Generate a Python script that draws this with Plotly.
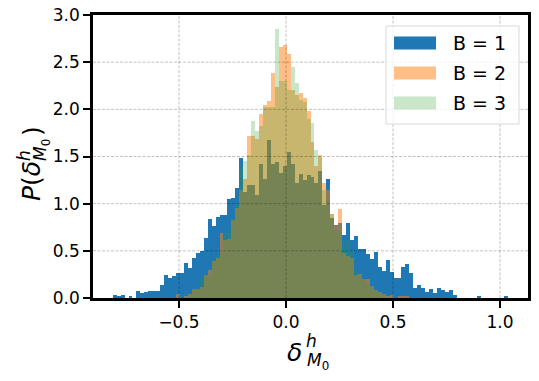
import numpy as np
import plotly.graph_objects as go

# histogram bins shared by the three series
X_MIN, X_MAX, N_BINS = -0.81, 1.039, 100

B1 = [0.03, 0.025, 0.035, 0.0, 0.02, 0.0, 0.07, 0.05, 0.06, 0.07,
      0.07, 0.07, 0.14, 0.24, 0.21, 0.23, 0.26, 0.27, 0.37, 0.32,
      0.42, 0.48, 0.50, 0.64, 0.84, 0.76, 0.86, 0.88, 0.88, 1.05,
      1.06, 1.17, 1.48, 1.12, 1.20, 1.20, 1.09, 1.42, 1.26, 1.67,
      1.42, 1.44, 1.32, 1.40, 1.55, 1.42, 1.22, 1.31, 1.25, 1.30,
      1.28, 1.22, 1.35, 0.99, 1.26, 0.85, 0.77, 0.80, 0.67, 0.79,
      0.62, 0.66, 0.52, 0.52, 0.47, 0.41, 0.49, 0.33, 0.29, 0.40,
      0.28, 0.21, 0.21, 0.33, 0.36, 0.27, 0.11, 0.14, 0.11, 0.06,
      0.10, 0.05, 0.11, 0.08, 0.06, 0.08, 0.03, 0.0, 0.0, 0.0,
      0.0, 0.0, 0.025, 0.0, 0.0, 0.0, 0.0, 0.0, 0.0, 0.02]

B2 = [0.0, 0.0, 0.0, 0.0, 0.0, 0.0, 0.0, 0.0, 0.0, 0.0,
      0.0, 0.0, 0.0, 0.0, 0.0, 0.0, 0.04, 0.0, 0.02, 0.04,
      0.10, 0.10, 0.12, 0.24, 0.30, 0.39, 0.42, 0.69, 0.62, 0.63,
      0.83, 0.95, 1.15, 1.26, 1.72, 1.72, 1.69, 1.95, 2.05, 2.09,
      2.38, 2.24, 2.66, 2.68, 2.59, 2.20, 2.15, 2.17, 2.12, 1.98,
      1.65, 1.40, 1.52, 1.22, 1.14, 0.89, 0.77, 0.94, 0.48, 0.45,
      0.42, 0.24, 0.25, 0.20, 0.20, 0.13, 0.09, 0.06, 0.04, 0.02,
      0.03, 0.0, 0.02, 0.02, 0.02, 0.0, 0.0, 0.0, 0.0, 0.0,
      0.0, 0.0, 0.0, 0.0, 0.0, 0.0, 0.0, 0.0, 0.0, 0.0,
      0.0, 0.0, 0.0, 0.0, 0.0, 0.0, 0.0, 0.0, 0.0, 0.0]

B3 = [0.0, 0.0, 0.0, 0.0, 0.0, 0.0, 0.0, 0.0, 0.0, 0.0,
      0.0, 0.0, 0.0, 0.0, 0.0, 0.0, 0.0, 0.0, 0.0, 0.04,
      0.10, 0.10, 0.20, 0.24, 0.24, 0.39, 0.45, 0.49, 0.68, 0.72,
      0.85, 1.00, 1.39, 1.45, 1.52, 1.88, 1.77, 1.82, 2.03, 2.03,
      2.03, 2.85, 2.30, 2.30, 2.20, 2.45, 2.28, 2.10, 2.08, 1.90,
      1.86, 1.57, 1.50, 1.15, 1.05, 0.89, 0.72, 0.70, 0.55, 0.62,
      0.50, 0.30, 0.25, 0.20, 0.15, 0.13, 0.09, 0.06, 0.04, 0.0,
      0.0, 0.0, 0.0, 0.0, 0.0, 0.0, 0.0, 0.0, 0.0, 0.0,
      0.0, 0.0, 0.0, 0.0, 0.0, 0.0, 0.0, 0.0, 0.0, 0.0,
      0.0, 0.0, 0.0, 0.0, 0.0, 0.0, 0.0, 0.0, 0.0, 0.0]

SERIES = ["B = 1", "B = 2", "B = 3"]
X_TICKS = [-0.5, 0.0, 0.5, 1.0]
Y_TICKS = [0.0, 0.5, 1.0, 1.5, 2.0, 2.5, 3.0]

COLORS = ["#1f77b4", "#ff7f0e", "#2ca02c"]
ALPHAS = [1.0, 0.5, 0.25]

# the page body has an 8px margin, so the figure is shrunk by that much
OFF = 8
W, H = 539 - OFF, 381 - OFF
L, R, T, B = 93 - OFF, 11, 15 - OFF, 83
FONT = "DejaVu Sans"


def px(x, y):
    """window pixel position -> paper coords"""
    x, y = x - OFF, y - OFF
    return (x - L) / (W - L - R), (H - B - y) / (H - T - B)


edges = np.linspace(X_MIN, X_MAX, N_BINS + 1)
centers = (edges[:-1] + edges[1:]) / 2
bw = edges[1] - edges[0]

fig = go.Figure()
for name, vals, col, a in zip(SERIES, [B1, B2, B3], COLORS, ALPHAS):
    fig.add_trace(
        go.Bar(
            x=centers,
            y=vals,
            width=bw,
            name=name,
            marker=dict(color=col, line=dict(width=0)),
            opacity=a,
            showlegend=False,
        )
    )

# dashed grid drawn over the bars, like matplotlib here
shapes = []
grid = dict(color="rgba(0,0,0,0.3)", width=0.8, dash="3px,1.5px")
for xv in X_TICKS:
    shapes.append(dict(type="line", xref="x", yref="paper", x0=xv, x1=xv, y0=0, y1=1, line=grid, layer="above"))
for yv in Y_TICKS[1:-1]:
    shapes.append(dict(type="line", xref="paper", yref="y", x0=0, x1=1, y0=yv, y1=yv, line=grid, layer="above"))

# legend, drawn by hand to get the wide matplotlib patches
annotations = []
x0, y0 = px(386, 26)
x1, y1 = px(519, 124)
shapes.append(dict(type="rect", xref="paper", yref="paper", x0=x0, x1=x1, y0=y1, y1=y0,
                   line=dict(color="#d9d9d9", width=1), fillcolor="rgba(255,255,255,0.8)", layer="above"))
for i, (name, col, a) in enumerate(zip(SERIES, COLORS, ALPHAS)):
    cy = 43 + 30 * i
    sx0, sy0 = px(394, cy - 6.5)
    sx1, sy1 = px(436, cy + 6.5)
    shapes.append(dict(type="rect", xref="paper", yref="paper", x0=sx0, x1=sx1, y0=sy1, y1=sy0,
                       line=dict(width=0), fillcolor=col, opacity=a, layer="above"))
    tx, ty = px(451, cy)
    annotations.append(dict(xref="paper", yref="paper", x=tx, y=ty, text=name, showarrow=False,
                            xanchor="left", yanchor="middle", font=dict(size=19, color="black")))


def label(x, y, text, size, angle=0):
    ax, ay = px(x, y)
    annotations.append(dict(xref="paper", yref="paper", x=ax, y=ay, text=text, showarrow=False,
                            xanchor="center", yanchor="middle", textangle=angle,
                            font=dict(size=size, color="black")))


# x label  δ^h_{M0}
label(294, 352, "<i>δ</i>", 25)
label(311, 341, "<i>h</i>", 17)
label(318, 361, "<i>M</i><sub>0</sub>", 17)
# y label  P(δ^h_{M0})
label(32, 181, "<i>P</i>(<i>δ</i>", 25, -90)
label(24, 156, "<i>h</i>", 17, -90)
label(42, 150, "<i>M</i><sub>0</sub>", 17, -90)
label(32, 131, ")", 25, -90)

axis = dict(
    showline=True,
    linecolor="black",
    linewidth=2.5,
    mirror=True,
    ticks="outside",
    ticklen=7,
    tickwidth=2,
    tickcolor="black",
    tickformat=".1f",
    showgrid=False,
    zeroline=False,
    automargin=False,
    ticklabeloverflow="allow",
    tickfont=dict(size=17, color="black"),
)

fig.update_layout(
    width=W,
    height=H,
    barmode="overlay",
    bargap=0,
    font=dict(family=FONT, color="black"),
    plot_bgcolor="white",
    paper_bgcolor="white",
    margin=dict(l=L, r=R, t=T, b=B),
    xaxis=dict(axis, range=[-0.902, 1.131], tickvals=X_TICKS),
    yaxis=dict(axis, range=[0, 3.0], tickvals=Y_TICKS),
    shapes=shapes,
    annotations=annotations,
)

fig.write_html("out.html")
